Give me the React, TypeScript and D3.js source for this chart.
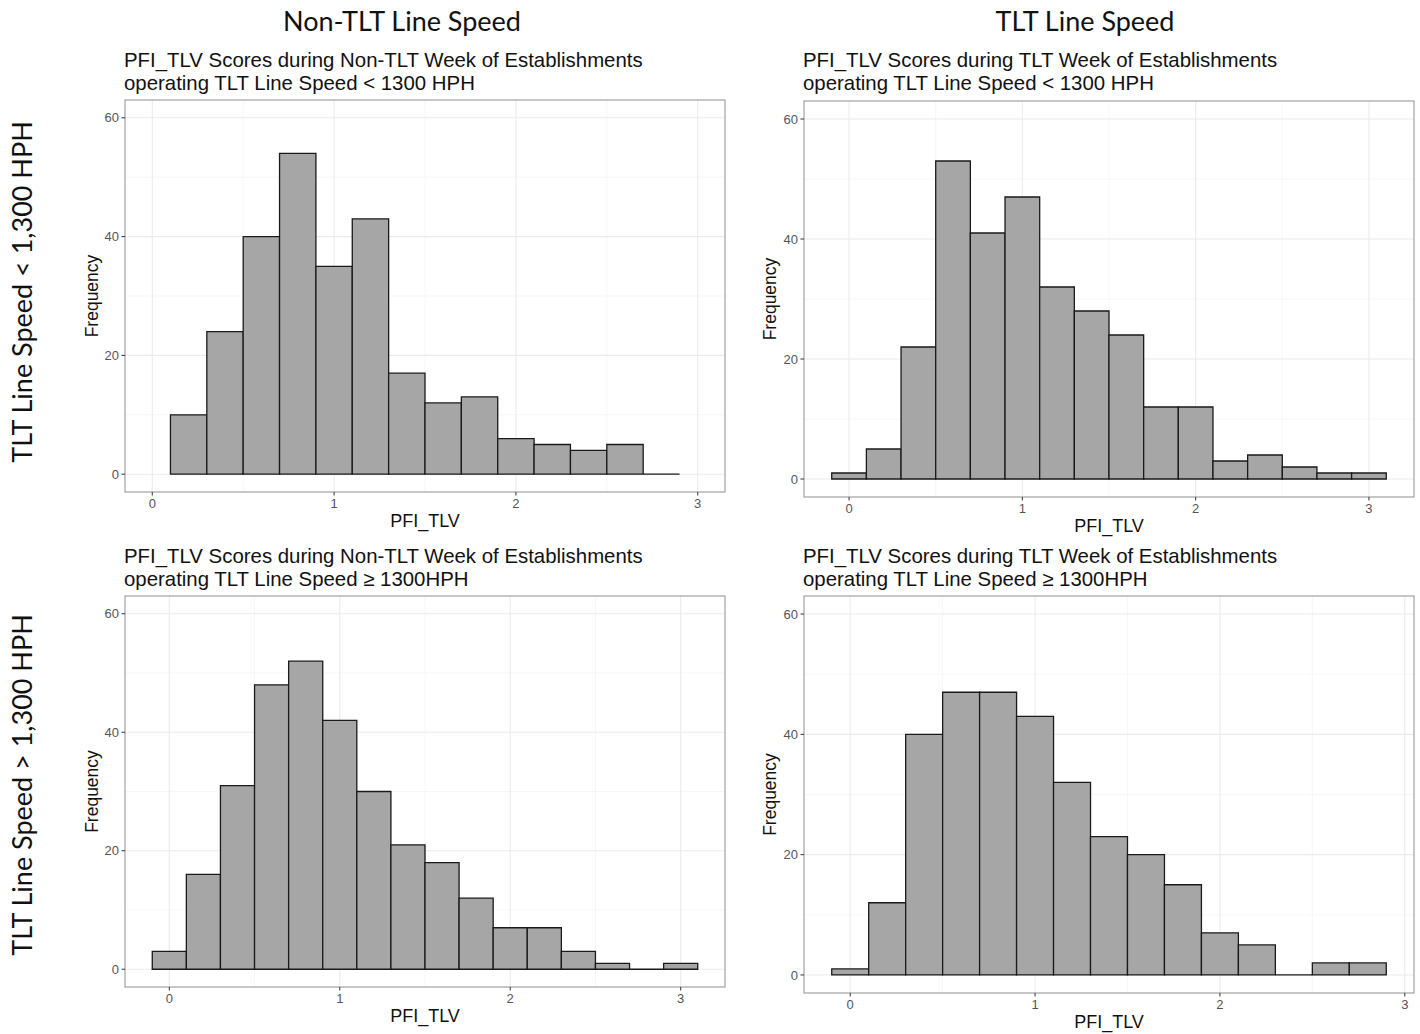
import React from "react";
import * as d3 from "d3";

// ---------- data ----------
const columnHeaders = ["Non-TLT Line Speed", "TLT Line Speed"];
const rowHeaders = ["TLT Line Speed < 1,300 HPH", "TLT Line Speed > 1,300 HPH"];

const titlesTL = ["PFI_TLV Scores during Non-TLT Week of Establishments", "operating TLT Line Speed < 1300 HPH"];
const titlesTR = ["PFI_TLV Scores during TLT Week of Establishments", "operating TLT Line Speed < 1300 HPH"];
const titlesBL = ["PFI_TLV Scores during Non-TLT Week of Establishments", "operating TLT Line Speed \u2265 1300HPH"];
const titlesBR = ["PFI_TLV Scores during TLT Week of Establishments", "operating TLT Line Speed \u2265 1300HPH"];

const binWidth = 0.2;
const binStartTL = 0.1;
const countsTL = [10, 24, 40, 54, 35, 43, 17, 12, 13, 6, 5, 4, 5, 0];
const binStartTR = -0.1;
const countsTR = [1, 5, 22, 53, 41, 47, 32, 28, 24, 12, 12, 3, 4, 2, 1, 1];
const binStartBL = -0.1;
const countsBL = [3, 16, 31, 48, 52, 42, 30, 21, 18, 12, 7, 7, 3, 1, 0, 1];
const binStartBR = -0.1;
const countsBR = [1, 12, 40, 47, 47, 43, 32, 23, 20, 15, 7, 5, 0, 2, 2];

const xTicks = [0, 1, 2, 3];
const xMinor = [0.5, 1.5, 2.5];
const yTicks = [0, 20, 40, 60];
const yMinor = [10, 30, 50];
const xLabel = "PFI_TLV";
const yLabel = "Frequency";

// ---------- panel component ----------
type PanelProps = {
  box: [number, number, number, number];
  xDomain: [number, number];
  start: number;
  counts: number[];
  titles: string[];
  titleY: number;
  xLabelY: number;
  yLabelX: number;
};

function Panel({ box, xDomain, start, counts, titles, titleY, xLabelY, yLabelX }: PanelProps) {
  const [x0, y0, x1, y1] = box;
  const x = d3.scaleLinear().domain(xDomain).range([x0, x1]);
  const y = d3.scaleLinear().domain([-3, 63]).range([y1, y0]);
  const tickFont = "'Liberation Sans', Arial, sans-serif";
  return (
    <g>
      {titles.map((t, i) => (
        <text key={i} x={x0 - 1} y={titleY + i * 22.5} fontSize={20.4} fontFamily={tickFont} fill="#111">
          {t}
        </text>
      ))}
      <rect x={x0} y={y0} width={x1 - x0} height={y1 - y0} fill="#fff" />
      {xMinor.map((v) => (
        <line key={"xm" + v} x1={x(v)} x2={x(v)} y1={y0} y2={y1} stroke="#f2f2f2" strokeWidth={0.6} />
      ))}
      {yMinor.map((v) => (
        <line key={"ym" + v} x1={x0} x2={x1} y1={y(v)} y2={y(v)} stroke="#f2f2f2" strokeWidth={0.6} />
      ))}
      {xTicks.map((v) => (
        <line key={"xg" + v} x1={x(v)} x2={x(v)} y1={y0} y2={y1} stroke="#ebebeb" strokeWidth={1.1} />
      ))}
      {yTicks.map((v) => (
        <line key={"yg" + v} x1={x0} x2={x1} y1={y(v)} y2={y(v)} stroke="#ebebeb" strokeWidth={1.1} />
      ))}
      {counts.map((c, i) => {
        const a = x(start + i * binWidth);
        const b = x(start + (i + 1) * binWidth);
        const base = y(0);
        const top = y(c);
        return (
          <path
            key={"bar" + i}
            d={`M${a},${base}V${top}H${b}V${base}Z`}
            fill="#a6a6a6"
            stroke="#1a1a1a"
            strokeWidth={1.3}
          />
        );
      })}
      <rect x={x0} y={y0} width={x1 - x0} height={y1 - y0} fill="none" stroke="#9a9a9a" strokeWidth={1.1} />
      {yTicks.map((v) => (
        <g key={"yt" + v}>
          <line x1={x0 - 3.5} x2={x0} y1={y(v)} y2={y(v)} stroke="#333" strokeWidth={1} />
          <text x={x0 - 6} y={y(v)} dy="0.35em" textAnchor="end" fontSize={13} fontFamily={tickFont} fill="#555">
            {v}
          </text>
        </g>
      ))}
      {xTicks.map((v) => (
        <g key={"xt" + v}>
          <line x1={x(v)} x2={x(v)} y1={y1} y2={y1 + 3.5} stroke="#333" strokeWidth={1} />
          <text x={x(v)} y={y1 + 16} textAnchor="middle" fontSize={13} fontFamily={tickFont} fill="#555">
            {v}
          </text>
        </g>
      ))}
      <text x={(x0 + x1) / 2} y={xLabelY} textAnchor="middle" fontSize={18} fontFamily={tickFont} fill="#111">
        {xLabel}
      </text>
      <text
        transform={`translate(${yLabelX},${(y0 + y1) / 2}) rotate(-90)`}
        textAnchor="middle"
        fontSize={17.5}
        fontFamily={tickFont}
        fill="#111"
      >
        {yLabel}
      </text>
    </g>
  );
}

export default function App() {
  const headFont = "Lato, 'Open Sans', sans-serif";
  return (
    <svg
      width={1420}
      height={1034}
      style={{ position: "absolute", left: 0, top: 0, background: "#fff" }}
    >
      <rect x={0} y={0} width={1420} height={1034} fill="#fff" />
      <text x={402} y={31} textAnchor="middle" fontSize={27} fontFamily={headFont} fill="#111">
        {columnHeaders[0]}
      </text>
      <text x={1085} y={31} textAnchor="middle" fontSize={27} fontFamily={headFont} fill="#111">
        {columnHeaders[1]}
      </text>
      <text
        transform="translate(32,292) rotate(-90)"
        textAnchor="middle"
        fontSize={27}
        fontFamily={headFont}
        fill="#111"
      >
        {rowHeaders[0]}
      </text>
      <text
        transform="translate(32,785) rotate(-90)"
        textAnchor="middle"
        fontSize={27}
        fontFamily={headFont}
        fill="#111"
      >
        {rowHeaders[1]}
      </text>

      <Panel
        box={[125, 100, 725, 492]}
        xDomain={[-0.15, 3.15]}
        start={binStartTL}
        counts={countsTL}
        titles={titlesTL}
        titleY={67}
        xLabelY={527}
        yLabelX={98}
      />
      <Panel
        box={[804, 101, 1414, 497]}
        xDomain={[-0.26, 3.26]}
        start={binStartTR}
        counts={countsTR}
        titles={titlesTR}
        titleY={67}
        xLabelY={532}
        yLabelX={776}
      />
      <Panel
        box={[125, 596, 725, 987]}
        xDomain={[-0.26, 3.26]}
        start={binStartBL}
        counts={countsBL}
        titles={titlesBL}
        titleY={563}
        xLabelY={1022}
        yLabelX={98}
      />
      <Panel
        box={[804, 596, 1414, 993]}
        xDomain={[-0.25, 3.05]}
        start={binStartBR}
        counts={countsBR}
        titles={titlesBR}
        titleY={563}
        xLabelY={1028}
        yLabelX={776}
      />
    </svg>
  );
}
